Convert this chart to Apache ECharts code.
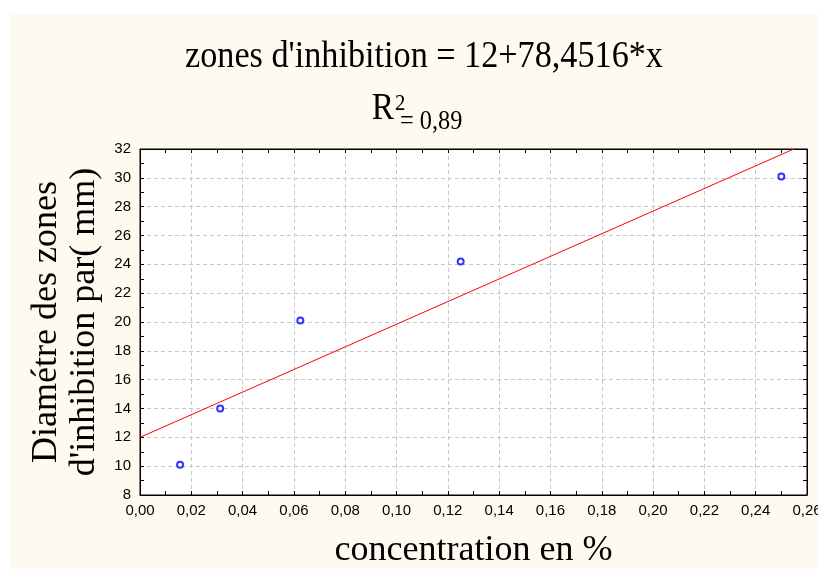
<!DOCTYPE html>
<html>
<head>
<meta charset="utf-8">
<script src="https://cdn.jsdelivr.net/npm/echarts@6/dist/echarts.min.js"></script>
<style>
  html, body { margin: 0; padding: 0; background: #fff; }
  #main { width: 818px; height: 569px; }
</style>
</head>
<body>
<div id="main"></div>
<script>
// données
var concentration = [0.015625, 0.03125, 0.0625, 0.125, 0.25];
var diametre = [10.1, 14.0, 20.1, 24.2, 30.1];
// droite de régression : 12 + 78,4516*x
var fitX = [0, 0.26];
var fitY = [12, 32.4];
var xRange = [0, 0.26, 0.02];
var yRange = [8, 32, 2];
var titre = "zones d'inhibition = 12+78,4516*x";
var r2Texte = ['R', '2', '= 0,89'];
var nomX = 'concentration en %';
var nomY = ['Diamétre des zones', "d'inhibition par( mm)"];

var chart = echarts.init(document.getElementById('main'));

var serif = '"Liberation Serif", "Times New Roman", serif';
var sans = '"Liberation Sans", Arial, sans-serif';

function virgule(v, d) {
  return v.toFixed(d).replace('.', ',');
}

function axeBase(r, extra) {
  var a = {
    type: 'value',
    min: r[0],
    max: r[1],
    interval: r[2],
    axisLine: { show: true, onZero: false, lineStyle: { color: '#000', width: 1 } },
    axisTick: { show: true, inside: true, length: 4, lineStyle: { color: '#000' } },
    minorTick: { show: true, splitNumber: 2, length: 4, lineStyle: { color: '#000' } },
    splitLine: { show: false },
    axisLabel: { show: false }
  };
  return Object.assign(a, extra);
}

var option = {
  backgroundColor: '#fff',
  animation: false,
  graphic: [
    {
      type: 'rect', z: -10, silent: true,
      shape: { x: 10, y: 14, width: 808, height: 555 },
      style: { fill: '#fffaf0' }
    },
    {
      type: 'text', x: 424, y: 76, scaleX: 0.9,
      style: { text: titre, font: '38px ' + serif, fill: '#000', textAlign: 'center', textVerticalAlign: 'bottom' }
    },
    {
      type: 'text', x: 394, y: 128, scaleX: 0.9,
      style: { text: r2Texte[0], font: '37px ' + serif, fill: '#000', textAlign: 'right', textVerticalAlign: 'bottom' }
    },
    {
      type: 'text', x: 395, y: 92, scaleX: 0.9,
      style: { text: r2Texte[1], font: '23px ' + serif, fill: '#000', textAlign: 'left', textVerticalAlign: 'top' }
    },
    {
      type: 'text', x: 400, y: 135, scaleX: 0.9,
      style: { text: r2Texte[2], font: '27px ' + serif, fill: '#000', textAlign: 'left', textVerticalAlign: 'bottom' }
    }
  ],
  grid: {
    left: 140, top: 149, right: 11, bottom: 74,
    containLabel: false,
    outerBoundsMode: 'none',
    show: true, backgroundColor: '#fff', borderColor: '#000', borderWidth: 1
  },
  xAxis: [
    axeBase(xRange, {
      position: 'bottom',
      name: nomX,
      nameLocation: 'middle',
      nameGap: 38,
      nameTextStyle: { fontFamily: serif, fontSize: 36, color: '#000' },
      axisLabel: {
        show: true, margin: 8, color: '#000', fontFamily: sans, fontSize: 15,
        formatter: function (v) { return virgule(v, 2); }
      },
      splitLine: { show: true, lineStyle: { color: '#c8c8c8', type: [4, 3], width: 1 } }
    }),
    axeBase(xRange, { position: 'top' })
  ],
  yAxis: [
    axeBase(yRange, {
      position: 'left',
      name: nomY.join('\n'),
      nameLocation: 'middle',
      nameGap: 35,
      nameRotate: 90,
      nameTextStyle: { fontFamily: serif, fontSize: 36, color: '#000', lineHeight: 38 },
      axisLabel: {
        show: true, margin: 9, color: '#000', fontFamily: sans, fontSize: 15,
        formatter: function (v) { return String(v); }
      },
      splitLine: { show: true, lineStyle: { color: '#c8c8c8', type: [4, 3], width: 1 } }
    }),
    axeBase(yRange, { position: 'right' })
  ],
  series: [
    {
      type: 'line',
      data: fitX.map(function (x, i) { return [x, fitY[i]]; }),
      symbol: 'none',
      clip: true,
      lineStyle: { color: '#ff0000', width: 1 },
      z: 2
    },
    {
      type: 'scatter',
      data: concentration.map(function (x, i) { return [x, diametre[i]]; }),
      symbol: 'emptyCircle',
      symbolSize: 6,
      itemStyle: { color: '#0000ff', borderColor: '#0000ff', borderWidth: 1 },
      z: 3
    }
  ]
};

chart.setOption(option);
</script>
</body>
</html>
